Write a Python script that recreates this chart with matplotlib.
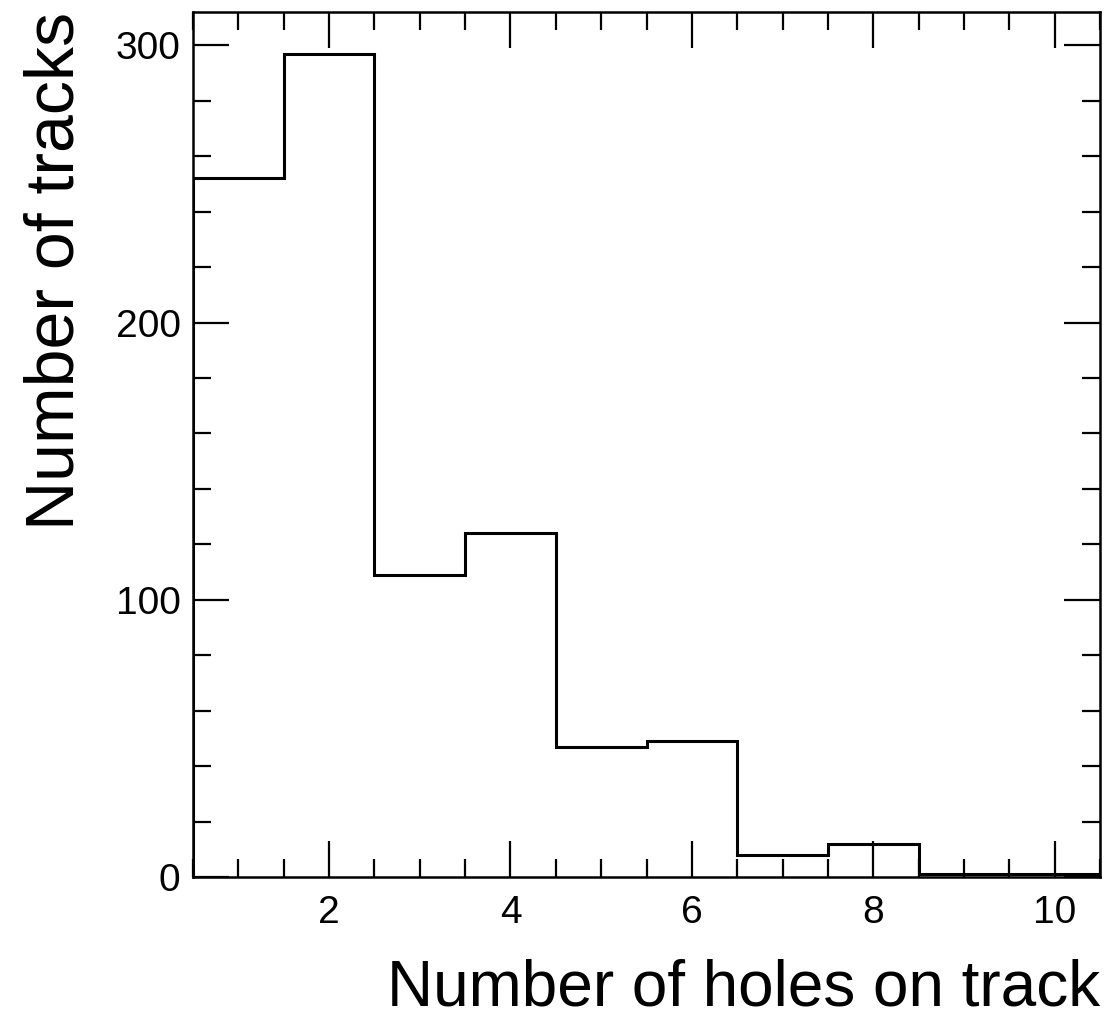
import numpy as np
import matplotlib
matplotlib.use("Agg")
from matplotlib import pyplot as plt
from matplotlib.ticker import MultipleLocator

# bin centres and counts
holes = [1, 2, 3, 4, 5, 6, 7, 8, 9, 10]
tracks = [252, 297, 109, 124, 47, 49, 8, 12, 1, 1]
xticks = [2, 4, 6, 8, 10]
yticks = [0, 100, 200, 300]

plt.rcParams["font.family"] = ["Liberation Sans", "DejaVu Sans"]

W, H = 1116, 1023
fig = plt.figure(figsize=(W / 100, H / 100), dpi=100)
ax = fig.add_axes([193 / W, (H - 877) / H, 907 / W, 865 / H])

edges = np.arange(len(holes) + 1) + 0.5
ax.stairs(tracks, edges, color="black", linewidth=2.2)

ax.set_xlim(0.5, 10.5)
ax.set_ylim(0, 312)
ax.set_xticks(xticks)
ax.set_yticks(yticks)
ax.xaxis.set_minor_locator(MultipleLocator(0.5))
ax.yaxis.set_minor_locator(MultipleLocator(20))

ax.tick_params(which="both", direction="in", top=True, right=True,
               labelsize=28, width=1.6, colors="black")
ax.tick_params(which="major", length=26)
ax.tick_params(which="minor", length=13)
ax.tick_params(axis="x", which="major", pad=13)
ax.tick_params(axis="y", which="major", pad=9)
for s in ax.spines.values():
    s.set_linewidth(1.8)

ax.set_xlabel("Number of holes on track", fontsize=46, loc="right", labelpad=20)
ax.set_ylabel("Number of tracks", fontsize=49, loc="top", labelpad=20)

fig.savefig("out.png", dpi=100)
